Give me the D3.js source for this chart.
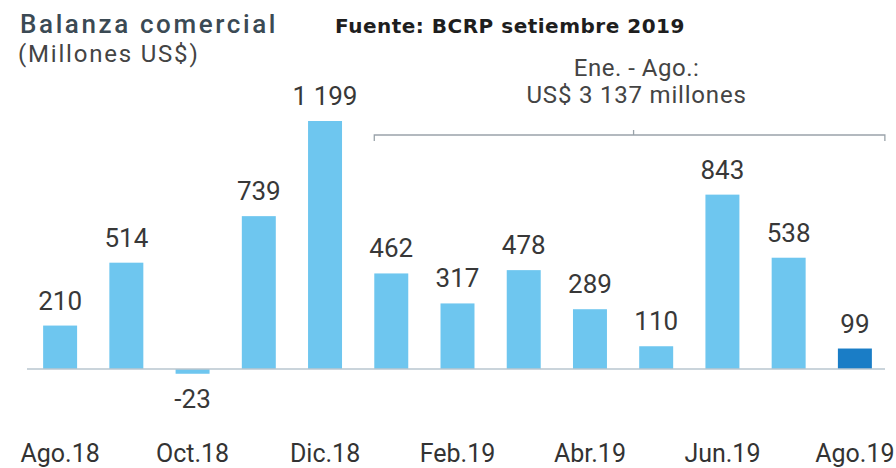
<!DOCTYPE html>
<html>
<head>
<meta charset="utf-8">
<script src="https://cdn.jsdelivr.net/npm/d3@7"></script>
<style>
  body { margin: 0; background: #fff; }
  text { font-family: Roboto, "Liberation Sans", sans-serif; }
</style>
</head>
<body>
<div id="chart-area"></div>
<script>
// data
const months = ["Ago.18","Sep.18","Oct.18","Nov.18","Dic.18","Ene.19","Feb.19","Mar.19","Abr.19","May.19","Jun.19","Jul.19","Ago.19"];
const values = [210, 514, -23, 739, 1199, 462, 317, 478, 289, 110, 843, 538, 99];
const tickLabels = ["Ago.18","Oct.18","Dic.18","Feb.19","Abr.19","Jun.19","Ago.19"];
const highlight = "Ago.19";
const bracketFrom = "Ene.19", bracketTo = "Ago.19";

let width = 896, height = 468;

let data = months.map((m, i) => ({ month: m, value: values[i] }));

let fmt = d3.formatLocale({ decimal: ".", thousands: " ", grouping: [3], currency: ["", ""], minus: "-" }).format(",d");

let svg = d3.select("#chart-area")
  .append("svg")
  .attr("width", width)
  .attr("height", height);

let xScale = d3.scaleBand()
  .domain(months)
  .range([27, 888])
  .paddingInner(0.487)
  .paddingOuter(0.2435);

let yScale = d3.scaleLinear()
  .domain([0, 1199])
  .range([369, 121]);

// titles
svg.append("text")
  .attr("x", 20).attr("y", 33)
  .attr("font-size", 26)
  .attr("font-weight", 500)
  .attr("letter-spacing", 2.6)
  .attr("fill", "#3b4a54")
  .text("Balanza comercial");

svg.append("text")
  .attr("x", 18).attr("y", 62)
  .attr("font-size", 24)
  .attr("letter-spacing", 1.8)
  .attr("fill", "#444")
  .text("(Millones US$)");

svg.append("text")
  .attr("x", 335).attr("y", 33)
  .attr("font-size", 20)
  .attr("font-weight", "bold")
  .attr("letter-spacing", 0.5)
  .attr("fill", "#1e1e1e")
  .style("font-family", "'DejaVu Sans', Verdana, sans-serif")
  .text("Fuente: BCRP setiembre 2019");

// bracket Ene-Ago
let bx0 = xScale(bracketFrom);
let bx1 = xScale(bracketTo) + xScale.bandwidth() + 13;
let bmid = (bx0 + bx1) / 2 + 4;
let by = 135;

svg.append("path")
  .attr("d", `M${bx0},${by + 6} L${bx0},${by} L${bx1},${by} L${bx1},${by + 6} M${bmid},${by} L${bmid},${by - 5}`)
  .attr("fill", "none")
  .attr("stroke", "#9aa3aa")
  .attr("stroke-width", 1.3);

svg.append("text")
  .attr("x", bmid + 3).attr("y", 76)
  .attr("text-anchor", "middle")
  .attr("font-size", 24)
  .attr("letter-spacing", 0.5)
  .attr("fill", "#444")
  .text("Ene. - Ago.:");

svg.append("text")
  .attr("x", bmid + 3).attr("y", 103)
  .attr("text-anchor", "middle")
  .attr("font-size", 24)
  .attr("letter-spacing", 0.8)
  .attr("fill", "#444")
  .text("US$ 3 137 millones");

// bars
svg.selectAll("rect.bar")
  .data(data)
  .enter()
  .append("rect")
  .attr("class", "bar")
  .attr("x", d => xScale(d.month))
  .attr("width", xScale.bandwidth())
  .attr("y", d => yScale(Math.max(0, d.value)))
  .attr("height", d => Math.abs(yScale(d.value) - yScale(0)))
  .attr("fill", d => d.month === highlight ? "#1a7dc6" : "#6ec6ef");

// zero line
svg.append("line")
  .attr("x1", 27).attr("x2", 885)
  .attr("y1", yScale(0)).attr("y2", yScale(0))
  .attr("stroke", "#b9c6cf")
  .attr("stroke-width", 1.5);

// value labels
svg.selectAll("text.val")
  .data(data)
  .enter()
  .append("text")
  .attr("class", "val")
  .attr("x", d => xScale(d.month) + xScale.bandwidth() / 2)
  .attr("y", d => d.value >= 0 ? yScale(d.value) - 16 : yScale(d.value) + 34)
  .attr("text-anchor", "middle")
  .attr("font-size", 26)
  .attr("fill", "#383838")
  .text(d => fmt(d.value));

// x axis
let xAxis = d3.axisBottom(xScale)
  .tickValues(tickLabels)
  .tickSize(0)
  .tickPadding(0);

let gx = svg.append("g")
  .attr("transform", "translate(0,444)")
  .call(xAxis);
gx.select(".domain").remove();
gx.selectAll("text")
  .attr("font-size", 25)
  .attr("fill", "#333")
  .style("font-family", "Roboto, sans-serif");
</script>
</body>
</html>
